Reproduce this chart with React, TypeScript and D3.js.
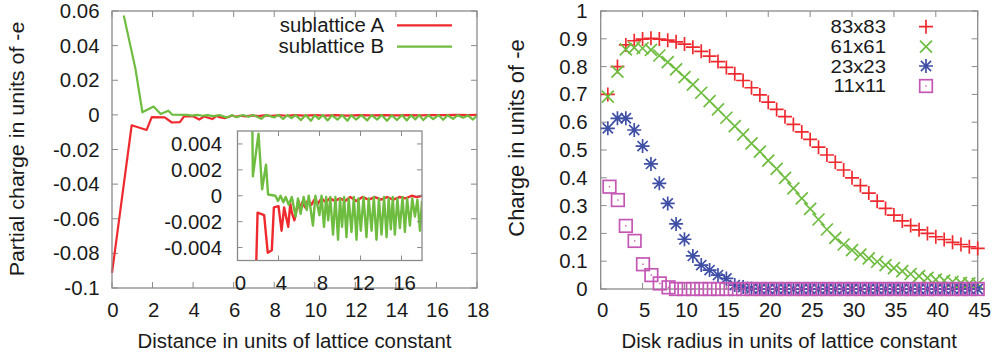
import React from "react";
import * as d3 from "d3";

// ---------- Left panel data (partial charge vs distance) ----------
const distA = [0, 0.97, 1.71, 1.96, 2.6, 2.95, 3.35, 3.55, 4.0, 4.3, 4.55, 4.95, 5.15, 5.3, 5.55, 5.95, 6.1, 6.3, 6.6, 6.9, 7.2, 7.5, 7.85, 8.2, 8.6, 9.0, 9.5, 10.0, 10.5, 11.0, 11.6, 12.2, 12.8, 13.4, 14.0, 14.6, 15.2, 15.8, 16.4, 17.0, 17.5, 18.0];
const chargeA = [-0.0913, -0.006, -0.0087, -0.0013, -0.0015, -0.0044, -0.0042, -0.0009, -0.0008, -0.0027, -0.0009, -0.0024, -0.0006, -0.0013, -0.0019, -0.0004, -0.0011, -0.0005, -0.0009, -0.0003, -0.0007, -0.0003, -0.0006, -0.0002, -0.0005, -0.0002, -0.0004, -0.0002, -0.0004, -0.0001, -0.0004, -0.0001, -0.0003, -0.0001, -0.0003, -0.0001, -0.0003, -0.0001, -0.0002, 0.0, -0.0001, 0.0];

const distB = [0.58, 1.15, 1.5, 2.05, 2.4, 2.78, 2.98, 3.7, 3.95, 4.2, 4.47, 4.7, 5.0, 5.3, 5.67, 5.9, 6.16, 6.45, 6.75, 6.95, 7.36, 7.6, 8.0, 8.2, 8.44, 8.65, 8.85, 9.05, 9.32, 9.55, 9.81, 10.0, 10.2, 10.4, 10.63, 10.85, 11.12, 11.35, 11.61, 11.8, 12.03, 12.3, 12.58, 12.8, 13.08, 13.3, 13.56, 13.8, 14.05, 14.3, 14.54, 14.75, 14.96, 15.15, 15.35, 15.6, 15.84, 16.1, 16.33, 16.55, 16.82, 17.05, 17.31, 17.55, 17.8, 18.0];
const chargeB = [0.0574, 0.027, 0.0015, 0.0048, 0.0005, 0.0024, 0.0001, 0.0, -0.0004, 0.0, -0.0005, -0.0001, -0.0007, -0.0001, -0.0016, -0.0002, -0.0014, -0.0001, -0.0011, 0.0, -0.0023, 0.0, -0.0015, 0.0, -0.0024, -0.0001, -0.0019, -0.0001, -0.003, -0.0001, -0.0034, -0.0002, -0.0024, -0.0001, -0.0032, -0.0002, -0.0028, -0.0001, -0.0034, -0.0002, -0.0027, -0.0001, -0.0032, -0.0002, -0.0027, -0.0001, -0.0034, -0.0002, -0.003, -0.0001, -0.0032, -0.0002, -0.0026, -0.0001, -0.003, -0.0002, -0.0025, -0.0001, -0.0028, -0.0002, -0.0023, -0.0002, -0.0016, -0.0003, -0.0027, -0.0004];

const leftXTicks = [0, 2, 4, 6, 8, 10, 12, 14, 16, 18];
const leftYTicks = [0.06, 0.04, 0.02, 0, -0.02, -0.04, -0.06, -0.08, -0.1];
const leftYLabels = ["0.06", "0.04", "0.02", "0", "-0.02", "-0.04", "-0.06", "-0.08", "-0.1"];
const insetXTicks = [0, 4, 8, 12, 16];
const insetYTicks = [0.004, 0.002, 0, -0.002, -0.004];
const insetYLabels = ["0.004", "0.002", "0", "-0.002", "-0.004"];

// ---------- Right panel data (charge vs disk radius) ----------
const radius83 = [0.85, 2, 3, 4, 5, 6, 7, 8, 9, 10, 11, 12, 13, 14, 15, 16, 17, 18, 19, 20, 21, 22, 23, 24, 25, 26, 27, 28, 29, 30, 31, 32, 33, 34, 35, 36, 37, 38, 39, 40, 41, 42, 43, 44, 45];
const charge83 = [0.7, 0.8, 0.878, 0.893, 0.899, 0.902, 0.899, 0.895, 0.889, 0.881, 0.87, 0.855, 0.838, 0.818, 0.797, 0.774, 0.75, 0.724, 0.698, 0.672, 0.646, 0.62, 0.592, 0.565, 0.538, 0.51, 0.482, 0.456, 0.428, 0.4, 0.372, 0.345, 0.316, 0.29, 0.266, 0.245, 0.228, 0.213, 0.2, 0.188, 0.178, 0.168, 0.16, 0.152, 0.146];
const radius61 = [0.85, 2, 3, 4, 5, 6, 7, 8, 9, 10, 11, 12, 13, 14, 15, 16, 17, 18, 19, 20, 21, 22, 23, 24, 25, 26, 27, 28, 29, 30, 31, 32, 33, 34, 35, 36, 37, 38, 39, 40, 41, 42, 43, 44, 45];
const charge61 = [0.692, 0.782, 0.862, 0.868, 0.866, 0.86, 0.84, 0.816, 0.79, 0.762, 0.735, 0.706, 0.676, 0.646, 0.616, 0.586, 0.555, 0.524, 0.494, 0.462, 0.432, 0.4, 0.362, 0.326, 0.288, 0.25, 0.214, 0.184, 0.16, 0.14, 0.124, 0.11, 0.098, 0.086, 0.075, 0.064, 0.054, 0.046, 0.04, 0.034, 0.03, 0.026, 0.022, 0.02, 0.018];
const radius23 = [0.85, 2, 3, 4, 5, 6, 7, 8, 9, 10, 11, 12, 13, 14, 15, 16, 17, 18, 19, 20, 21, 22, 23, 24, 25, 26, 27, 28, 29, 30, 31, 32, 33, 34, 35, 36, 37, 38, 39, 40, 41, 42, 43, 44, 45];
const charge23 = [0.578, 0.614, 0.614, 0.572, 0.514, 0.45, 0.38, 0.308, 0.234, 0.179, 0.119, 0.086, 0.068, 0.05, 0.038, 0.014, 0.007, 0.002, 0, 0, 0, 0, 0, 0, 0, 0, 0, 0, 0, 0, 0, 0, 0, 0, 0, 0, 0, 0, 0, 0, 0, 0, 0, 0, 0];
const radius11 = [1.05, 2.05, 3, 4.05, 5.05, 6.05, 7.05, 8.1, 9, 10, 11, 12, 13, 14, 15, 16, 17, 18, 19, 20, 21, 22, 23, 24, 25, 26, 27, 28, 29, 30, 31, 32, 33, 34, 35, 36, 37, 38, 39, 40, 41, 42, 43, 44, 45];
const charge11 = [0.368, 0.32, 0.227, 0.173, 0.089, 0.05, 0.02, 0.006, 0, 0, 0, 0, 0, 0, 0, 0, 0, 0, 0, 0, 0, 0, 0, 0, 0, 0, 0, 0, 0, 0, 0, 0, 0, 0, 0, 0, 0, 0, 0, 0, 0, 0, 0, 0, 0];

const rightXTicks = [0, 5, 10, 15, 20, 25, 30, 35, 40, 45];
const rightYTicks = [0, 0.1, 0.2, 0.3, 0.4, 0.5, 0.6, 0.7, 0.8, 0.9, 1];
const rightYLabels = ["0", "0.1", "0.2", "0.3", "0.4", "0.5", "0.6", "0.7", "0.8", "0.9", "1"];
const seriesNames = ["83x83", "61x61", "23x23", "11x11"];
const leftNames = ["sublattice A", "sublattice B"];

// ---------- styles ----------
const FONT = "'Liberation Sans', Arial, Helvetica, sans-serif";
const FS = 20;
const SX = 1.02;
const FRAME = "#8a8a8a";
const RED = "#ee2a2f";
const GREEN = "#6fbd40";
const BLUE = "#3f4fa6";
const MAGENTA = "#c457b4";

type TP = { x: number; y: number; anchor?: string; rot?: number; size?: number; sx?: number; children: React.ReactNode };
function T({ x, y, anchor = "middle", rot, size = FS, sx = SX, children }: TP) {
  const tr = `translate(${x},${y})${rot ? ` rotate(${rot})` : ""} scale(${sx},1)`;
  return (
    <text transform={tr} textAnchor={anchor} fontFamily={FONT} fontSize={size} fill="#1a1a1a">
      {children}
    </text>
  );
}

function Frame({ x0, x1, y0, y1 }: { x0: number; x1: number; y0: number; y1: number }) {
  return <rect x={x0} y={y0} width={x1 - x0} height={y1 - y0} fill="none" stroke={FRAME} strokeWidth={1.3} />;
}

function Marker({ kind, x, y, color }: { kind: number; x: number; y: number; color: string }) {
  const s = 7;
  const d = 6;
  const sw = 1.7;
  if (kind === 0)
    return <path d={`M${x - s},${y}H${x + s}M${x},${y - s}V${y + s}`} stroke={color} strokeWidth={sw} fill="none" />;
  if (kind === 1)
    return <path d={`M${x - d},${y - d}L${x + d},${y + d}M${x - d},${y + d}L${x + d},${y - d}`} stroke={color} strokeWidth={sw} fill="none" />;
  if (kind === 2)
    return (
      <path
        d={`M${x - s},${y}H${x + s}M${x},${y - s}V${y + s}M${x - d * 0.85},${y - d * 0.85}L${x + d * 0.85},${y + d * 0.85}M${x - d * 0.85},${y + d * 0.85}L${x + d * 0.85},${y - d * 0.85}`}
        stroke={color}
        strokeWidth={sw}
        fill="none"
      />
    );
  return (
    <g>
      <rect x={x - 6.3} y={y - 6.3} width={12.6} height={12.6} stroke={color} strokeWidth={sw} fill="none" />
      <rect x={x - 0.7} y={y - 0.7} width={1.4} height={1.4} fill={color} />
    </g>
  );
}

export default function App() {
  // Left panel geometry
  const L = { x0: 112, x1: 477, y0: 11, y1: 288 };
  const lx = d3.scaleLinear().domain([0, 18]).range([L.x0, L.x1]);
  const ly = d3.scaleLinear().domain([-0.1, 0.06]).range([L.y1, L.y0]);
  const I = { x0: 237.5, x1: 422, y0: 131, y1: 260.5 };
  const ix = d3.scaleLinear().domain([0, 18]).range([I.x0, I.x1]);
  const iy = d3.scaleLinear().domain([-0.005, 0.005]).range([I.y1, I.y0]);
  // Right panel geometry
  const R = { x0: 600.7, x1: 977.7, y0: 11, y1: 289 };
  const rx = d3.scaleLinear().domain([0, 45]).range([R.x0, R.x1]);
  const ry = d3.scaleLinear().domain([0, 1]).range([R.y1, R.y0]);

  const ptsA = distA.map((d, i) => [d, chargeA[i]] as [number, number]);
  const ptsB = distB.map((d, i) => [d, chargeB[i]] as [number, number]);
  const mainLine = d3.line<[number, number]>().x((p) => lx(p[0])).y((p) => ly(p[1]));
  const insetLine = d3.line<[number, number]>().x((p) => ix(p[0])).y((p) => iy(p[1]));

  const tl = 6;
  const rightSeries = [
    { xs: radius83, ys: charge83, color: RED, kind: 0 },
    { xs: radius61, ys: charge61, color: GREEN, kind: 1 },
    { xs: radius23, ys: charge23, color: BLUE, kind: 2 },
    { xs: radius11, ys: charge11, color: MAGENTA, kind: 3 },
  ];

  return (
    <svg width={1003} height={357} style={{ position: "absolute", left: 0, top: 0, background: "#fff" }}>
      <rect x={0} y={0} width={1003} height={357} fill="#fff" />
      <defs>
        <clipPath id="insetClip">
          <rect x={I.x0} y={I.y0} width={I.x1 - I.x0} height={I.y1 - I.y0} />
        </clipPath>
        <clipPath id="rightClip">
          <rect x={R.x0 - 8} y={R.y0} width={R.x1 - R.x0 + 16} height={R.y1 - R.y0 + 10} />
        </clipPath>
      </defs>

      {/* ---------------- Left panel ---------------- */}
      {leftXTicks.map((t) => (
        <g key={"lx" + t}>
          <line x1={lx(t)} x2={lx(t)} y1={L.y1} y2={L.y1 - tl} stroke={FRAME} />
          <line x1={lx(t)} x2={lx(t)} y1={L.y0} y2={L.y0 + tl} stroke={FRAME} />
          <T x={lx(t) + 1} y={316.5}>{String(t)}</T>
        </g>
      ))}
      {leftYTicks.map((t, i) => (
        <g key={"ly" + i}>
          <line x1={L.x0} x2={L.x0 + tl} y1={ly(t)} y2={ly(t)} stroke={FRAME} />
          <line x1={L.x1} x2={L.x1 - tl} y1={ly(t)} y2={ly(t)} stroke={FRAME} />
          <T x={99.5} y={ly(t) + 7} anchor="end">{leftYLabels[i]}</T>
        </g>
      ))}
      <path d={mainLine(ptsA) || ""} fill="none" stroke={RED} strokeWidth={2.2} strokeLinejoin="round" />
      <path d={mainLine(ptsB) || ""} fill="none" stroke={GREEN} strokeWidth={2.2} strokeLinejoin="round" />
      <Frame {...L} />

      {/* legend left */}
      <T x={384} y={32.3} anchor="end">{leftNames[0]}</T>
      <line x1={397} x2={452} y1={25.3} y2={25.3} stroke={RED} strokeWidth={2.2} />
      <T x={384} y={53.3} anchor="end">{leftNames[1]}</T>
      <line x1={397} x2={452} y1={46.7} y2={46.7} stroke={GREEN} strokeWidth={2.2} />

      {/* inset */}
      <rect x={I.x0} y={I.y0} width={I.x1 - I.x0} height={I.y1 - I.y0} fill="#fff" />
      <g clipPath="url(#insetClip)">
        <path d={insetLine(ptsA) || ""} fill="none" stroke={RED} strokeWidth={2.4} strokeLinejoin="round" />
        <path d={insetLine(ptsB) || ""} fill="none" stroke={GREEN} strokeWidth={2.4} strokeLinejoin="round" />
      </g>
      {insetXTicks.map((t) => (
        <g key={"ix" + t}>
          <line x1={ix(t)} x2={ix(t)} y1={I.y1} y2={I.y1 - 5} stroke={FRAME} />
          <line x1={ix(t)} x2={ix(t)} y1={I.y0} y2={I.y0 + 5} stroke={FRAME} />
          <T x={ix(t) + 3} y={290}>{String(t)}</T>
        </g>
      ))}
      {insetYTicks.map((t, i) => (
        <g key={"iy" + i}>
          <line x1={I.x0} x2={I.x0 + 5} y1={iy(t)} y2={iy(t)} stroke={FRAME} />
          <line x1={I.x1} x2={I.x1 - 5} y1={iy(t)} y2={iy(t)} stroke={FRAME} />
          <T x={222} y={iy(t) + 7} anchor="end">{insetYLabels[i]}</T>
        </g>
      ))}
      <Frame {...I} />

      <T x={(L.x0 + L.x1) / 2} y={348.3}>Distance in units of lattice constant</T>
      <T x={24} y={149} rot={-90} size={21}>Partial charge in units of -e</T>

      {/* ---------------- Right panel ---------------- */}
      {rightXTicks.map((t) => (
        <g key={"rx" + t}>
          <line x1={rx(t)} x2={rx(t)} y1={R.y1} y2={R.y1 - tl} stroke={FRAME} />
          <line x1={rx(t)} x2={rx(t)} y1={R.y0} y2={R.y0 + tl} stroke={FRAME} />
          <T x={rx(t) + 2} y={316.7}>{String(t)}</T>
        </g>
      ))}
      {rightYTicks.map((t, i) => (
        <g key={"ry" + i}>
          <line x1={R.x0} x2={R.x0 + tl} y1={ry(t)} y2={ry(t)} stroke={FRAME} />
          <line x1={R.x1} x2={R.x1 - tl} y1={ry(t)} y2={ry(t)} stroke={FRAME} />
          <T x={587.5} y={ry(t) + 7} anchor="end">{rightYLabels[i]}</T>
        </g>
      ))}
      <Frame {...R} />
      <g clipPath="url(#rightClip)">
        {rightSeries.map((s, si) =>
          s.xs.map((xv, i) => <Marker key={si + "-" + i} kind={s.kind} x={rx(xv)} y={ry(s.ys[i])} color={s.color} />)
        )}
      </g>

      {/* legend right */}
      {seriesNames.map((n, i) => (
        <g key={n}>
          <T x={886} y={[33.3, 52.7, 72.7, 92.3][i]} anchor="end" size={18.5} sx={1.1}>{n}</T>
          <Marker kind={rightSeries[i].kind} x={926} y={[26.7, 46.7, 66, 86][i]} color={rightSeries[i].color} />
        </g>
      ))}

      <T x={(R.x0 + R.x1) / 2} y={348.3}>Disk radius in units of lattice constant</T>
      <T x={524} y={138} rot={-90} size={21.5}>Charge in units of -e</T>
    </svg>
  );
}
